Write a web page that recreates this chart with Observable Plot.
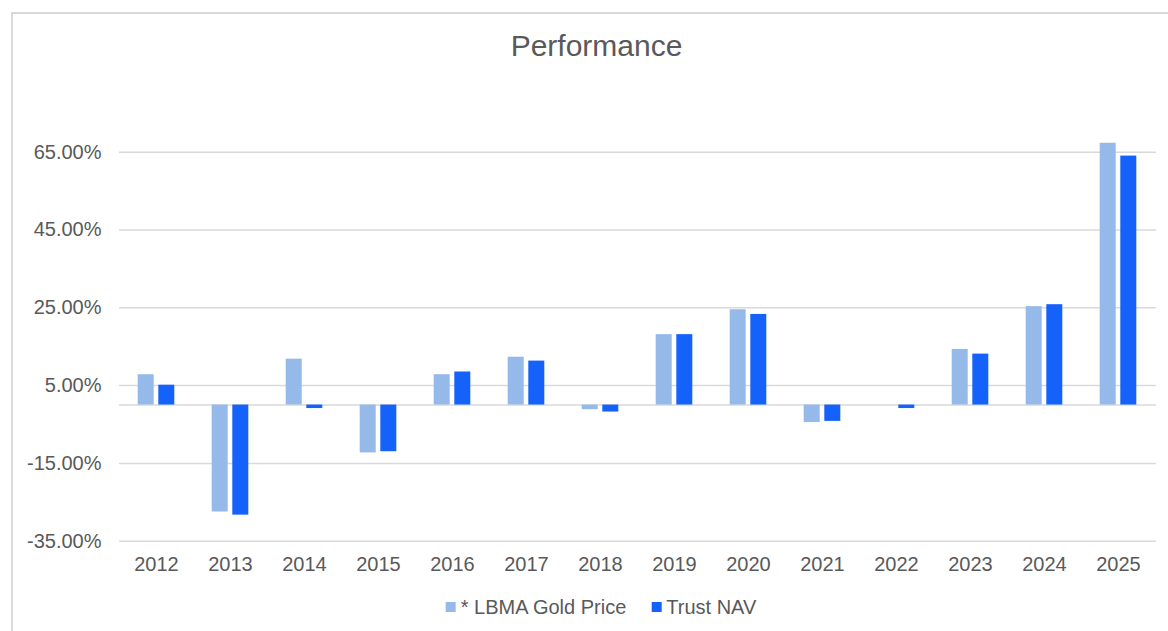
<!DOCTYPE html>
<html>
<head>
<meta charset="utf-8">
<script src="https://cdn.jsdelivr.net/npm/d3@7"></script>
<script src="https://cdn.jsdelivr.net/npm/@observablehq/plot@0.6"></script>
<style>
  html, body { margin: 0; padding: 0; background: #fff; overflow: hidden; }
  body { width: 1168px; height: 631px; position: relative; font-family: "Liberation Sans", Arial, sans-serif; }
  #frame { position: absolute; left: 11px; top: 12px; width: 1300px; height: 800px; border-left: 2px solid #d9d9d9; border-top: 2px solid #d9d9d9; box-sizing: border-box; }
  #title { position: absolute; top: 31px; left: 596.5px; transform: translateX(-50%); font-size: 30px; line-height: 30px; color: #595959; white-space: nowrap; }
  #chart { position: absolute; left: 0; top: 0; }
  #legend { position: absolute; top: 597px; left: 601px; transform: translateX(-50%); display: flex; align-items: center; font-size: 20px; line-height: 20px; color: #595959; white-space: nowrap; }
  .sw { width: 10px; height: 10px; display: inline-block; margin-right: 5px; }
  .item { display: flex; align-items: center; }
  .item + .item { margin-left: 25px; }
</style>
</head>
<body>
<div id="frame"></div>
<div id="chart"></div>
<div id="title">Performance</div>
<div id="legend"></div>
<script>
const years = ["2012","2013","2014","2015","2016","2017","2018","2019","2020","2021","2022","2023","2024","2025"];
const goldPrice = [7.8, -27.5, 11.8, -12.3, 7.8, 12.3, -1.2, 18.1, 24.5, -4.5, 0.0, 14.3, 25.3, 67.3];
const trustNAV  = [5.1, -28.3, -0.9, -12.0, 8.5, 11.3, -1.8, 18.1, 23.3, -4.2, -0.9, 13.1, 25.8, 64.0];
const seriesNames = ["* LBMA Gold Price", "Trust NAV"];
const yTicks = [-35, -15, 5, 25, 45, 65];

const colors = ["#95BAEA", "#1462FA"];

const goldData = years.map((year, i) => ({year, value: goldPrice[i]}));
const navData = years.map((year, i) => ({year, value: trustNAV[i]}));

const chart = Plot.plot({
  width: 1168,
  height: 631,
  marginLeft: 119,
  marginRight: 12,
  marginTop: 132.25,
  marginBottom: 90.3,
  x: {domain: years, paddingInner: 0.778, paddingOuter: 0.389, label: null},
  y: {domain: [-35, 70], label: null},
  style: {fontFamily: "'Liberation Sans', Arial, sans-serif", fontSize: "20px", color: "#595959", background: "transparent", overflow: "visible"},
  marks: [
    Plot.gridY({ticks: yTicks, stroke: "#d9d9d9", strokeOpacity: 1, strokeWidth: 1.5}),
    Plot.ruleY([0], {stroke: "#d9d9d9", strokeWidth: 1.5}),
    Plot.barY(goldData, {x: "year", y: "value", fill: colors[0], dx: -10.3}),
    Plot.barY(navData, {x: "year", y: "value", fill: colors[1], dx: 10.3}),
    Plot.axisY({ticks: yTicks, tickSize: 0, tickPadding: 18, tickFormat: d => d.toFixed(2) + "%", fontSize: 20, label: null}),
    Plot.axisX({tickSize: 0, tickPadding: 16, fontSize: 20, label: null})
  ]
});
document.getElementById("chart").appendChild(chart);

const legend = document.getElementById("legend");
seriesNames.forEach((name, i) => {
  const item = document.createElement("div");
  item.className = "item";
  const sw = document.createElement("span");
  sw.className = "sw";
  sw.style.background = colors[i];
  const t = document.createElement("span");
  t.textContent = name;
  item.appendChild(sw);
  item.appendChild(t);
  legend.appendChild(item);
});
</script>
</body>
</html>
